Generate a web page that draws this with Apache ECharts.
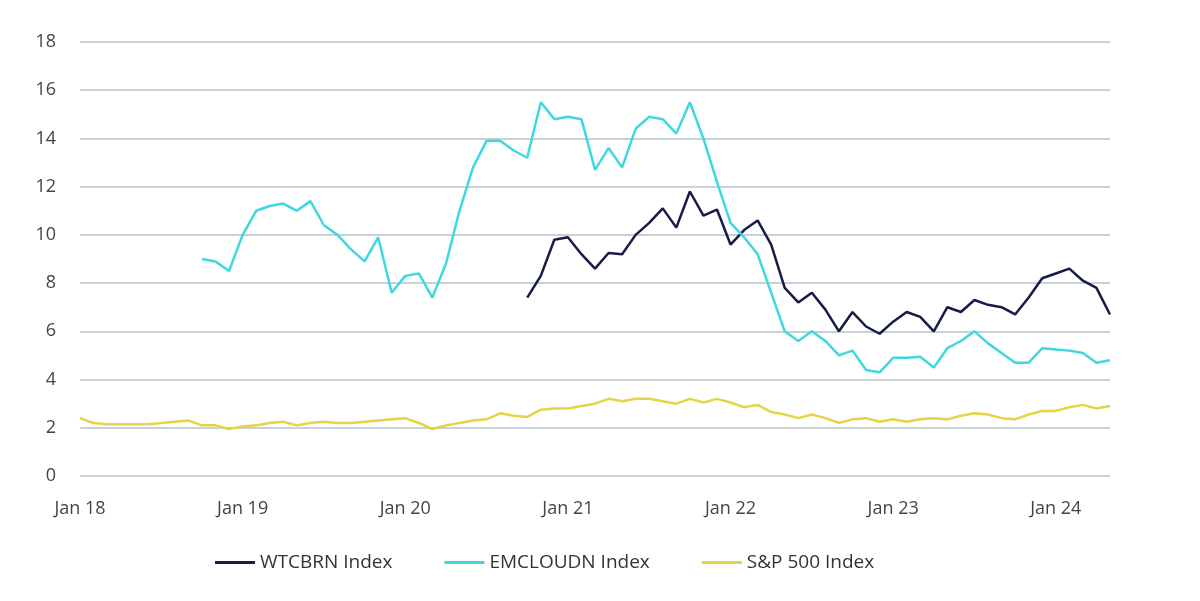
<!DOCTYPE html>
<html><head><meta charset="utf-8">
<script src="https://cdn.jsdelivr.net/npm/echarts@6/dist/echarts.min.js"></script>
<style>html,body{margin:0;background:#fff}#c{width:1200px;height:601px}</style>
</head><body><div id="c"></div>
<script>
// months Jan 18 .. May 24
var months = [];
for (var y = 18; y <= 24; y++) for (var m = 1; m <= 12; m++) {
  if (y === 24 && m > 5) break;
  months.push((m === 1 ? 'Jan ' : 'M' + m + ' ') + y);
}
var wtcbrn = [7.4,8.3,9.8,
  9.9,9.2,8.6,9.25,9.2,10.0,10.5,11.1,10.3,11.8,10.8,11.05,
  9.6,10.2,10.6,9.6,7.8,7.2,7.6,6.9,6.0,6.8,6.2,5.9,
  6.4,6.8,6.6,6.0,7.0,6.8,7.3,7.1,7.0,6.7,7.4,8.2,
  8.4,8.6,8.1,7.8,6.7];
var emcloud = [9.0,8.9,8.5,
  10.0,11.0,11.2,11.3,11.0,11.4,10.4,10.0,9.4,8.9,9.9,7.6,
  8.3,8.4,7.4,8.8,11.0,12.8,13.9,13.9,13.5,13.2,15.5,14.8,
  14.9,14.8,12.7,13.6,12.8,14.4,14.9,14.8,14.2,15.5,14.0,12.2,
  10.5,9.9,9.2,7.6,6.0,5.6,6.0,5.6,5.0,5.2,4.4,4.3,
  4.9,4.9,4.95,4.5,5.3,5.6,6.0,5.5,5.1,4.7,4.7,5.3,
  5.25,5.2,5.1,4.7,4.8];
var spx = [2.4,2.2,2.15,2.15,2.15,2.15,2.2,2.25,2.3,2.1,2.1,1.95,
  2.05,2.1,2.2,2.25,2.1,2.2,2.25,2.2,2.2,2.25,2.3,2.35,
  2.4,2.2,1.95,2.1,2.2,2.3,2.35,2.6,2.5,2.45,2.75,2.8,
  2.8,2.9,3.0,3.2,3.1,3.2,3.2,3.1,3.0,3.2,3.05,3.2,
  3.05,2.85,2.95,2.65,2.55,2.4,2.55,2.4,2.2,2.35,2.4,2.25,
  2.35,2.25,2.35,2.4,2.35,2.5,2.6,2.55,2.4,2.35,2.55,2.7,
  2.7,2.85,2.95,2.8,2.9];

function pad(arr) {
  var out = [];
  for (var i = 0; i < months.length - arr.length; i++) out.push(null);
  return out.concat(arr);
}
var font = '"Open Sans", Lato, sans-serif';
var chart = echarts.init(document.getElementById('c'));
function line(name, data, color) {
  return { name: name, type: 'line', data: data, symbol: 'none',
    lineStyle: { color: color, width: 2.5 }, itemStyle: { color: color } };
}
chart.setOption({
  animation: false,
  grid: { left: 80, right: 90, top: 42, bottom: 125 },
  legend: {
    bottom: 24, left: 210, itemWidth: 40, itemHeight: 3, itemGap: 52, icon: 'rect',
    textStyle: { fontSize: 19, color: '#333', fontFamily: font },
    data: ['WTCBRN Index', 'EMCLOUDN Index', 'S&P 500 Index']
  },
  xAxis: {
    type: 'category', boundaryGap: false, data: months,
    axisLine: { show: false }, axisTick: { show: false },
    axisLabel: { interval: 11, color: '#444', fontSize: 18, fontFamily: font, margin: 24,
      formatter: function (v) { return v.indexOf('Jan') === 0 ? v : ''; } }
  },
  yAxis: {
    type: 'value', min: 0, max: 18, interval: 2,
    axisLabel: { color: '#444', fontSize: 18, fontFamily: font, margin: 24 },
    splitLine: { lineStyle: { color: '#b5c2cb', width: 1.5 } }
  },
  series: [
    line('WTCBRN Index', pad(wtcbrn), '#181a48'),
    line('EMCLOUDN Index', pad(emcloud), '#3fd8e0'),
    line('S&P 500 Index', spx, '#e7d444')
  ]
});
</script></body></html>
